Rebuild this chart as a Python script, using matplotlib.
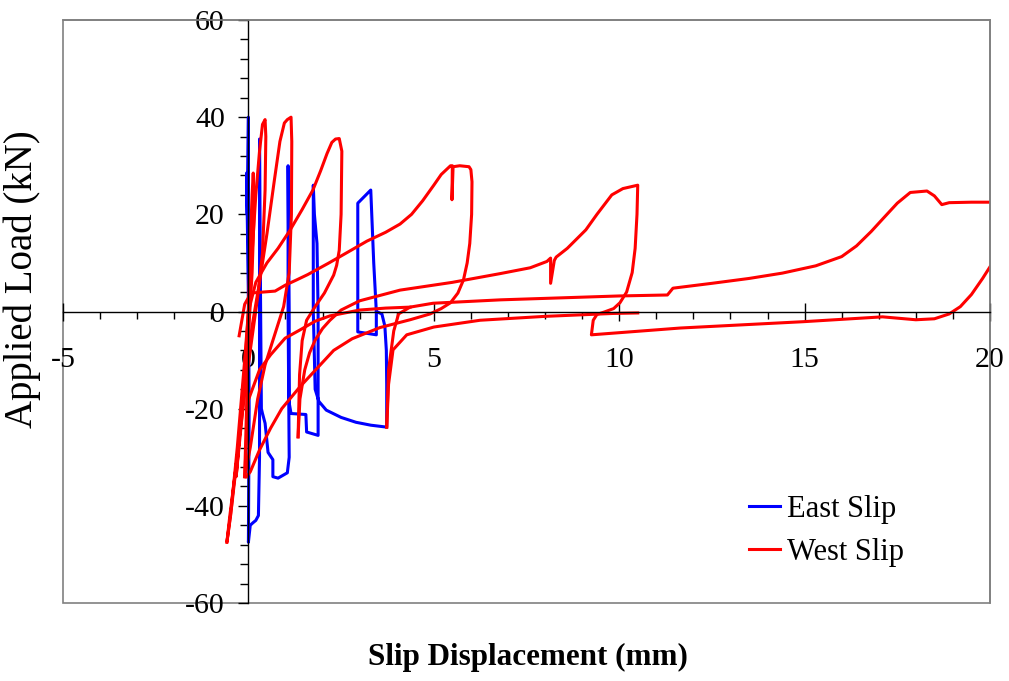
import numpy as np
import matplotlib
matplotlib.use('Agg')
import matplotlib.pyplot as plt
from matplotlib.patches import Rectangle
from matplotlib.ticker import MultipleLocator

plt.rcParams['font.family'] = ['Liberation Serif', 'DejaVu Serif']
plt.rcParams['axes.unicode_minus'] = False

# East slip (mm / kN)
east_x = [0.0, 0.0, -0.03, -0.05, 0.0, 0.02, 0.0, 0.05, 0.12, 0.2, 0.27, 0.3, 0.3, 0.32,
          0.35, 0.38, 0.45, 0.53, 0.66, 0.66, 0.8, 1.05, 1.1, 1.07, 1.07, 1.1, 1.1, 1.15,
          1.55, 1.57, 1.88, 1.88, 1.85, 1.78, 1.75, 1.75, 1.8, 1.9, 2.1, 2.5, 2.9, 3.3,
          3.73, 3.73, 3.72, 3.68, 3.6, 3.45, 3.45, 2.95, 2.95, 3.3, 3.38, 3.45]
east_y = [0, 40, 20, 28.5, 5, -20, -47.5, -44, -43.5, -43, -42, -30, 35.5, 10,
          -20, -21, -23, -29, -30.5, -34, -34.3, -33.2, -30, 0, 30, 0, -18.8, -21,
          -21.2, -24.8, -25.5, 0, 14, 20, 26, 0, -16, -18.5, -20.3, -21.8, -22.8, -23.4,
          -23.8, -15, -8, -3, -0.5, 0, -4.8, -4.2, 22.3, 25, 10, 0]

# West slip, one list per branch
west1_x = [0.0, 0.05, 0.10, 0.13, 0.16, 0.10, 0.0, -0.15, -0.28, -0.33, -0.2, -0.05, 0.0]
west1_y = [0.0, 14, 24, 28.5, 22, 8, -5, -20, -30, -34, -22, -6, 0]

west2_x = [0.0, 0.1, 0.2, 0.3, 0.38, 0.45, 0.47, 0.45, 0.38, 0.25, 0.05, -0.15, -0.35,
           -0.5, -0.58, -0.48, -0.3, -0.1, 0.0]
west2_y = [0, 12, 24, 33, 38.5, 39.5, 36, 25, 12, 3, -8, -20, -33, -42, -47.5, -42, -28, -10, 0]

west3_x = [-0.58, -0.45, -0.3, -0.1, 0.1, 0.3, 0.5, 0.7, 0.85, 0.97, 1.05, 1.15, 1.17, 1.16,
           1.1, 0.95, 0.7, 0.45, 0.25, 0.05, -0.1]
west3_y = [-47.5, -40, -30, -15, -3, 6, 16, 27, 35, 38.8, 39.5, 40, 35, 20,
           8, 1, -5, -11, -18, -28, -34]

west4_x = [-0.1, -0.05, 0.0, 0.2, 0.5, 0.8, 1.12, 1.45, 1.74, 1.95, 2.12, 2.25, 2.35, 2.45,
           2.52, 2.5, 2.45, 2.38, 2.3, 2.05, 1.8, 1.57, 1.45, 1.38, 1.34]
west4_y = [-34, -20, 0, 6, 10, 13, 16.7, 21, 25, 29, 32.5, 34.8, 35.5, 35.6,
           33, 20, 12.6, 9.5, 7.5, 3.8, 1, -1.8, -6, -13, -25.8]

west5_x = [-0.25, -0.1, 0.07, 0.72, 0.99, 1.3, 1.6, 2.15, 2.7, 3.2, 3.7, 4.09, 4.4, 4.7,
           5.0, 5.2, 5.45, 5.5, 5.49, 5.52, 5.7, 5.95, 6.0, 6.03, 6.02, 5.97, 5.9, 5.8,
           5.65, 5.45, 5.2, 4.9, 4.36, 3.55, 2.8, 2.3, 1.39, 0.9, 0.6, 0.3, 0.05, -0.05]
west5_y = [-5, 1.5, 3.8, 4.2, 5.4, 6.5, 7.6, 9.9, 12.3, 14.5, 16.3, 18, 20, 22.8,
           26.0, 28.2, 30, 30, 23, 29.8, 30, 29.8, 29.2, 26.7, 20, 14, 10, 6.5,
           3.8, 1.8, 0.6, -0.5, -1.7, -3.3, -5.6, -8.0, -15.5, -20, -24, -28.5, -33, -34]

west6_x = [-0.1, -0.05, 0.0, 0.3, 0.6, 0.99, 1.39, 1.8, 2.2, 3.0, 3.7, 4.36]
west6_y = [-34, -26, -18.2, -12, -8.9, -5.5, -3.8, -2.0, -0.9, 0.3, 0.7, 0.9]

west7_x = [1.34, 1.39, 1.52, 1.65, 1.8, 2.0, 2.2, 2.5, 3.0, 4.09, 5.5, 6.79, 7.6, 8.05,
           8.15, 8.15, 8.25, 8.3, 8.6, 9.1, 9.4, 9.8, 10.1, 10.5, 10.48, 10.43, 10.35,
           10.2, 10.02, 9.85, 9.6, 9.4, 9.3, 9.25, 11.65, 14.96, 17.1, 18.0, 18.5,
           18.9, 19.2, 19.5, 19.8, 20.0]
west7_y = [-25.8, -18, -12, -8.5, -5.9, -3.5, -1.8, 0.3, 2.2, 4.4, 6.0, 7.8, 9.0, 10.3,
           11, 5.8, 10.5, 11.2, 13, 16.8, 20, 24.0, 25.3, 26, 20, 13, 8,
           4, 1.8, 0.6, -0.1, -0.6, -1.8, -4.8, -3.4, -2.1, -1.1, -1.7, -1.5,
           -0.5, 1.0, 3.5, 6.8, 9.2]

west8_x = [3.73, 3.78, 3.92, 4.05, 4.36, 4.98, 6.8, 10.0, 11.3, 11.45, 12.5, 13.5, 14.4,
           15.3, 16.0, 16.4, 16.8, 17.1, 17.5, 17.85, 18.3, 18.5, 18.7, 18.9, 19.5, 20.0]
west8_y = [-23.8, -12, -4, -0.5, 0.9, 1.7, 2.4, 3.2, 3.4, 4.8, 5.8, 6.8, 7.9,
           9.4, 11.3, 13.5, 16.5, 19.0, 22.3, 24.5, 24.8, 23.8, 22.0, 22.4, 22.5, 22.5]

west9_x = [3.73, 3.78, 3.9, 4.27, 5.0, 6.25, 8.0, 9.84, 10.5]
west9_y = [-23.8, -15, -7.9, -4.8, -3.2, -1.8, -1.0, -0.4, -0.3]

west_branches = [(west1_x, west1_y), (west2_x, west2_y), (west3_x, west3_y),
                 (west4_x, west4_y), (west5_x, west5_y), (west6_x, west6_y),
                 (west7_x, west7_y), (west8_x, west8_y), (west9_x, west9_y)]

fig = plt.figure(figsize=(10.09, 6.81), dpi=100)
ax = fig.add_axes([63 / 1009, 1 - 603 / 681, 927 / 1009, 583 / 681])

ax.plot(east_x, east_y, color='#0000ff', lw=2.2, label='East Slip')
for i, (x, y) in enumerate(west_branches):
    ax.plot(x, y, color='#ff0000', lw=2.2, label='West Slip' if i == 0 else None,
            solid_joinstyle='round')

ax.set_xlim(-5, 20)
ax.set_ylim(-60, 60)

# axes cross at the origin, grey frame round the plot area
ax.spines['left'].set_position(('data', 0))
ax.spines['bottom'].set_position(('data', 0))
for s in ['left', 'bottom']:
    ax.spines[s].set_color('black')
    ax.spines[s].set_linewidth(1.0)
for s in ['top', 'right']:
    ax.spines[s].set_color('#808080')
    ax.spines[s].set_linewidth(1.2)
ax.add_patch(Rectangle((0, 0), 1, 1, transform=ax.transAxes, fill=False,
                       edgecolor='#808080', lw=1.2, clip_on=False, zorder=0))

ax.xaxis.set_major_locator(MultipleLocator(5))
ax.xaxis.set_minor_locator(MultipleLocator(1))
ax.yaxis.set_major_locator(MultipleLocator(20))
ax.yaxis.set_minor_locator(MultipleLocator(4))
ax.tick_params(axis='x', which='major', direction='inout', length=13, width=1,
               labelsize=21.5, pad=19)
ax.tick_params(axis='x', which='minor', direction='out', length=5, width=1)
ax.tick_params(axis='y', which='major', direction='out', length=7, width=1,
               labelsize=21.5, pad=10)
ax.tick_params(axis='y', which='minor', direction='out', length=6, width=1)

fig.text(528 / 1009, 1 - 657 / 681, 'Slip Displacement (mm)', fontsize=22.4,
         fontweight='bold', ha='center', va='center')
fig.text(22 / 1009, 1 - 279 / 681, 'Applied Load (kN)', fontsize=28,
         rotation=90, ha='center', va='center')

ax.legend(loc='upper left', bbox_to_anchor=(749 / 1009, 1 - 495 / 681),
          bbox_transform=fig.transFigure, frameon=False, fontsize=22,
          handlelength=1.0, handletextpad=0.25, labelspacing=0.45,
          borderpad=0, borderaxespad=0)

fig.savefig('out.png', dpi=100)
